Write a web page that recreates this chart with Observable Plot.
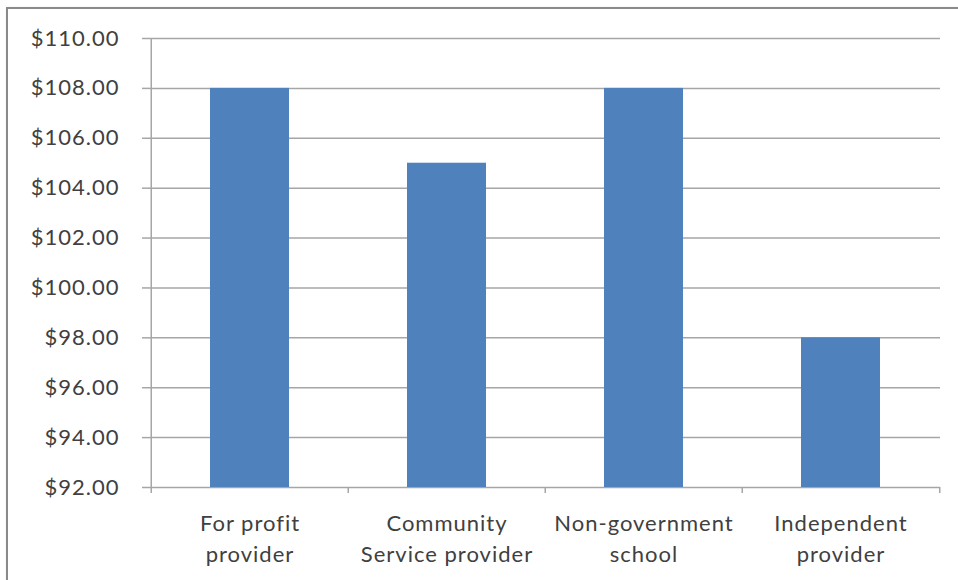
<!DOCTYPE html>
<html>
<head>
<meta charset="utf-8">
<script src="https://cdn.jsdelivr.net/npm/d3@7"></script>
<script src="https://cdn.jsdelivr.net/npm/@observablehq/plot@0.6"></script>
<style>
  html, body { margin: 0; padding: 0; background: #fff; }
  #wrap { position: relative; width: 958px; height: 580px; overflow: hidden; }
  #frame { position: absolute; left: 6px; top: 7px; width: 1000px; height: 640px; border: 2px solid #8a8a8a; box-shadow: 1px 1px 2px #bbb; }
  #chart { position: absolute; left: 0; top: 0; }
  #chart svg text { letter-spacing: 1px; }
</style>
</head>
<body>
<div id="wrap"><div id="frame"></div><div id="chart"></div></div>
<script>
const categories = ["For profit provider", "Community Service provider", "Non-government school", "Independent provider"];
const labels = ["For profit\nprovider", "Community\nService provider", "Non-government\nschool", "Independent\nprovider"];
const values = [108, 105, 108, 98];
const yTicks = [92, 94, 96, 98, 100, 102, 104, 106, 108, 110];

const data = categories.map((c, i) => ({category: c, value: values[i]}));
const W = 958, H = 580, mL = 150, mR = 18, mT = 38, mB = 93;
const band = (W - mL - mR) / categories.length;
const grey = "#a6a6a6";
const textColor = "#404040";

const chart = Plot.plot({
  width: W, height: H,
  marginLeft: mL, marginRight: mR, marginTop: mT, marginBottom: mB,
  style: {fontFamily: "Lato, 'Open Sans', sans-serif", fontSize: "22px", color: textColor, background: "transparent"},
  x: {domain: categories, paddingInner: 0.6, paddingOuter: 0.3, label: null},
  y: {domain: [92, 110], label: null},
  marks: [
    Plot.gridY(yTicks.slice(1), {stroke: grey, strokeOpacity: 1, strokeWidth: 1.5}),
    Plot.ruleY([92], {stroke: grey, strokeWidth: 1.5}),
    Plot.ruleX([categories[0]], {y1: 92, y2: 110, dx: -band / 2, stroke: grey, strokeWidth: 1.5}),
    Plot.ruleX(categories, {y1: 92, y2: 92, insetBottom: -6, dx: -band / 2, stroke: grey, strokeWidth: 1.5}),
    Plot.ruleX([categories[categories.length - 1]], {y1: 92, y2: 92, insetBottom: -6, dx: band / 2, stroke: grey, strokeWidth: 1.5}),
    Plot.barY(data, {x: "category", y1: 92, y2: "value", fill: "#4f81bd"}),
    Plot.axisY(yTicks, {tickSize: 8, tickPadding: 23, stroke: grey, strokeWidth: 1.5, fill: textColor, tickFormat: d => "$" + d.toFixed(2), label: null}),
    Plot.axisX({tickSize: 0, tickPadding: 22, fill: textColor, lineHeight: 1.4, tickFormat: d => labels[categories.indexOf(d)], label: null})
  ]
});
document.getElementById("chart").appendChild(chart);
</script>
</body>
</html>
